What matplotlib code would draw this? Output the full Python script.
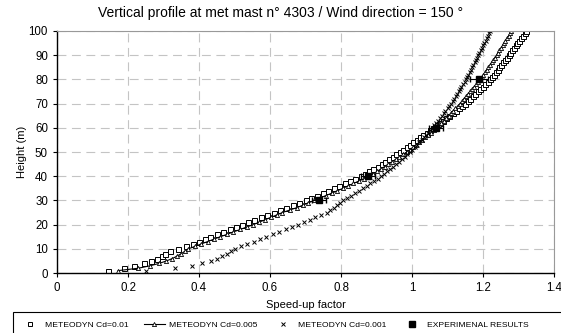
import numpy as np
import matplotlib
matplotlib.use('Agg')
import matplotlib.pyplot as plt
from matplotlib.patches import Rectangle
from matplotlib.lines import Line2D

plt.rcParams['font.family'] = ['Liberation Sans', 'DejaVu Sans']

# Heights (m), one value per metre
heights = np.arange(1, 101)

# Speed-up factors
cd_001 = [0.143, 0.190, 0.218, 0.245, 0.265, 0.281, 0.295, 0.305, 0.318, 0.340,
          0.362, 0.382, 0.400, 0.418, 0.432, 0.450, 0.468, 0.486, 0.503, 0.520,
          0.538, 0.556, 0.574, 0.592, 0.610, 0.628, 0.646, 0.664, 0.682, 0.700,
          0.716, 0.732, 0.748, 0.764, 0.780, 0.795, 0.810, 0.825, 0.840, 0.855,
          0.867, 0.879, 0.891, 0.903, 0.915, 0.925, 0.935, 0.945, 0.955, 0.965,
          0.975, 0.985, 0.994, 1.004, 1.013, 1.022, 1.032, 1.041, 1.051, 1.060,
          1.069, 1.078, 1.087, 1.096, 1.105, 1.114, 1.123, 1.132, 1.141, 1.150,
          1.157, 1.164, 1.171, 1.178, 1.185, 1.192, 1.199, 1.206, 1.213, 1.220,
          1.225, 1.230, 1.236, 1.241, 1.246, 1.251, 1.256, 1.262, 1.267, 1.272,
          1.277, 1.282, 1.287, 1.292, 1.297, 1.302, 1.307, 1.312, 1.317, 1.322]

cd_0005 = [0.172, 0.229, 0.262, 0.288, 0.308, 0.325, 0.338, 0.350, 0.360, 0.370,
           0.388, 0.406, 0.424, 0.442, 0.460, 0.479, 0.497, 0.516, 0.534, 0.553,
           0.569, 0.586, 0.602, 0.619, 0.635, 0.655, 0.675, 0.692, 0.708, 0.725,
           0.741, 0.757, 0.774, 0.790, 0.805, 0.820, 0.835, 0.850, 0.865, 0.880,
           0.891, 0.902, 0.912, 0.923, 0.933, 0.944, 0.954, 0.964, 0.975, 0.985,
           0.994, 1.003, 1.012, 1.020, 1.029, 1.037, 1.045, 1.054, 1.062, 1.070,
           1.077, 1.083, 1.090, 1.096, 1.103, 1.109, 1.116, 1.122, 1.129, 1.135,
           1.141, 1.146, 1.152, 1.158, 1.164, 1.169, 1.175, 1.181, 1.186, 1.192,
           1.197, 1.201, 1.206, 1.210, 1.215, 1.220, 1.224, 1.229, 1.233, 1.238,
           1.242, 1.246, 1.251, 1.255, 1.259, 1.263, 1.267, 1.272, 1.276, 1.280]

cd_0001 = [0.250, 0.333, 0.380, 0.408, 0.433, 0.450, 0.465, 0.478, 0.490, 0.500,
           0.518, 0.536, 0.554, 0.572, 0.590, 0.608, 0.626, 0.644, 0.662, 0.680,
           0.696, 0.712, 0.728, 0.744, 0.760, 0.770, 0.779, 0.788, 0.797, 0.806,
           0.818, 0.829, 0.840, 0.851, 0.862, 0.873, 0.883, 0.894, 0.904, 0.914,
           0.922, 0.930, 0.938, 0.946, 0.954, 0.963, 0.971, 0.979, 0.987, 0.995,
           1.001, 1.008, 1.014, 1.020, 1.027, 1.033, 1.039, 1.045, 1.052, 1.058,
           1.063, 1.068, 1.074, 1.079, 1.084, 1.089, 1.094, 1.100, 1.105, 1.110,
           1.114, 1.118, 1.123, 1.127, 1.131, 1.135, 1.139, 1.144, 1.148, 1.152,
           1.156, 1.159, 1.163, 1.166, 1.170, 1.173, 1.177, 1.180, 1.184, 1.187,
           1.190, 1.194, 1.197, 1.200, 1.204, 1.207, 1.210, 1.213, 1.217, 1.220]

# Experimental results
exp_height = [30, 40, 60, 80]
exp_speed = [0.738, 0.876, 1.068, 1.189]
exp_err = [0.02, 0.02, 0.02, 0.025]

fig = plt.figure(figsize=(5.61, 3.33), dpi=100)
ax = fig.add_axes([0.1016, 0.18, 0.886, 0.727])

ax.plot(cd_001, heights, linestyle='none', marker='s', markersize=3.6,
        markerfacecolor='white', markeredgecolor='black', markeredgewidth=0.7)
ax.plot(cd_0005, heights, color='black', linewidth=0.8, marker='^', markersize=3,
        markerfacecolor='white', markeredgecolor='black', markeredgewidth=0.6)
ax.plot(cd_0001, heights, linestyle='none', marker='x', markersize=3.5,
        color='black', markeredgewidth=0.7)
ax.errorbar(exp_speed, exp_height, xerr=exp_err, fmt='s', color='black',
            markersize=5, elinewidth=0.8, capsize=2)

ax.set_xlim(0, 1.4)
ax.set_ylim(0, 100)
ax.set_xticks(np.arange(0, 1.41, 0.2))
ax.set_xticklabels(['0', '0.2', '0.4', '0.6', '0.8', '1', '1.2', '1.4'])
ax.set_yticks(np.arange(0, 101, 10))
ax.tick_params(labelsize=8.3, length=3, width=0.8, direction='out')
ax.grid(True, color='#c4c4c4', linestyle=(0, (8, 5)), linewidth=0.8)
ax.set_axisbelow(True)
for side in ['top', 'right']:
    ax.spines[side].set_color('#999999')
    ax.spines[side].set_linewidth(0.8)
for side in ['left', 'bottom']:
    ax.spines[side].set_color('black')
    ax.spines[side].set_linewidth(1.0)

fig.text(0.5, 1 - 13 / 333, 'Vertical profile at met mast n° 4303 / Wind direction = 150 °',
         fontsize=10, ha='center', va='center')
ax.set_xlabel('Speed-up factor', fontsize=8, labelpad=4)
ax.set_ylabel('Height (m)', fontsize=8, labelpad=1)

# legend box runs past the right edge as in the original
fig.patches.append(Rectangle((13 / 561, -0.1), 1.0, 0.1 + 21 / 333,
                             transform=fig.transFigure, fill=False,
                             edgecolor='black', linewidth=0.8))
handles = [
    Line2D([], [], linestyle='none', marker='s', markersize=3, markerfacecolor='white',
           markeredgecolor='black', markeredgewidth=0.7),
    Line2D([], [], color='black', linewidth=0.8, marker='^', markersize=3,
           markerfacecolor='white', markeredgecolor='black', markeredgewidth=0.6),
    Line2D([], [], linestyle='none', marker='x', markersize=3.5, color='black',
           markeredgewidth=0.7),
    Line2D([], [], linestyle='none', marker='s', markersize=5, color='black'),
]
labels = ['METEODYN Cd=0.01', 'METEODYN Cd=0.005', 'METEODYN Cd=0.001',
          'EXPERIMENAL RESULTS']
leg = fig.legend(handles, labels, loc='center left', bbox_to_anchor=(0.025, 8 / 333),
                 ncol=4, fontsize=6.1, frameon=False,
                 handlelength=2.4, handletextpad=0.5, columnspacing=1.9,
                 borderpad=0.2)

fig.savefig('out.png', dpi=100)
